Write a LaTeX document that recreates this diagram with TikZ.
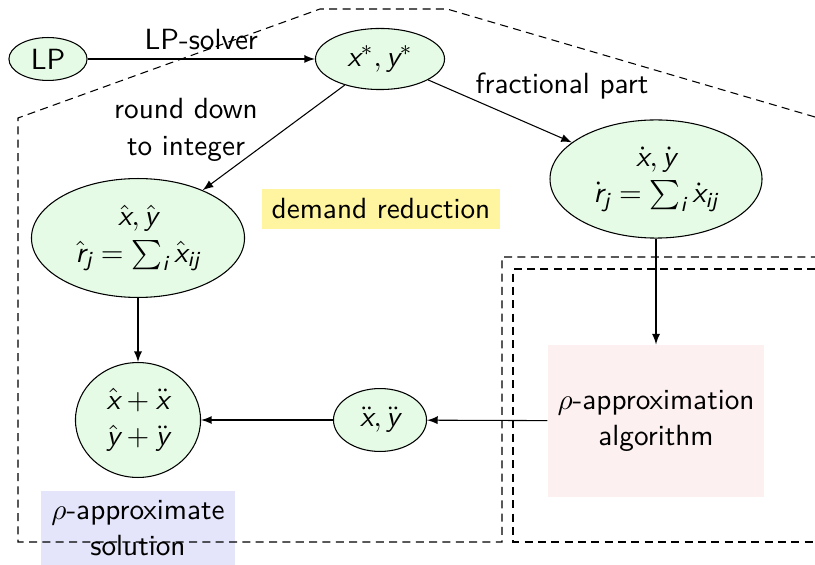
\documentclass[tikz,border=0pt]{standalone}
\usepackage{amsmath}
\usetikzlibrary{shapes.geometric,arrows}
\newcommand\sv[1]{\text{\normalfont\sffamily\itshape #1}}
\definecolor{egreen}{RGB}{229,251,229}
\definecolor{bpink}{RGB}{253,240,240}
\definecolor{byellow}{RGB}{255,245,160}
\definecolor{blav}{RGB}{228,228,250}
\begin{document}
\begin{tikzpicture}[x=0.375pt,y=-0.375pt,
  font=\fontsize{10.95}{13.6}\selectfont\sffamily,
  ell/.style={ellipse,draw,fill=egreen,inner sep=0pt,align=center},
  fbox/.style={rectangle,inner sep=0pt,align=center},
  arr/.style={-latex,line width=0.4pt},
  dsh/.style={dash pattern=on 3pt off 2pt,line width=0.4pt}]
\useasboundingbox (0,0) rectangle (815,565);
% nodes
\node[ell,minimum width=29.3pt,minimum height=16.1pt] (lp) at (48,59) {LP};
\node[ell,minimum width=48.4pt,minimum height=22.9pt] (xs) at (380,59) {$\sv{x}^*, \sv{y}^*$};
\node[ell,minimum width=79.5pt,minimum height=44.3pt] (dot) at (656,179) {$\dot{\sv{x}}, \dot{\sv{y}}$\\$\dot{\sv{r}}_{\sv{j}} = \sum_{\sv{i}} \dot{\sv{x}}_{\sv{ij}}$};
\node[ell,minimum width=79.9pt,minimum height=44.6pt] (hat) at (138,238) {$\hat{\sv{x}}, \hat{\sv{y}}$\\$\hat{\sv{r}}_{\sv{j}} = \sum_{\sv{i}} \hat{\sv{x}}_{\sv{ij}}$};
\node[ell,minimum width=46.9pt,minimum height=43.1pt] (sum) at (138,420) {$\hat{\sv{x}} + \ddot{\sv{x}}$\\$\hat{\sv{y}} + \ddot{\sv{y}}$};
\node[ell,minimum width=34.9pt,minimum height=23.6pt] (dd) at (380,420) {$\ddot{\sv{x}}, \ddot{\sv{y}}$};
\node[fbox,fill=bpink,minimum width=81pt,minimum height=57pt] (alg) at (656,421) {$\rho$-approximation\\algorithm};
\node[fbox,fill=byellow,minimum width=89.3pt,minimum height=15pt] (dr) at (381,209) {demand reduction};
\node[fbox,fill=blav,minimum width=72.4pt,minimum height=27.4pt] (sol) at (138,528) {$\rho$-approximate\\solution};
% labels
\node[align=center] (lround) at (186,130) {round down\\to integer};
\node (lfrac) at (562,86) {fractional part};
% edges
\draw[arr] (lp) -- node[above] (lsolv) {LP-solver} (xs);
\draw[arr] (xs) -- (hat);
\draw[arr] (xs) -- (dot);
\draw[arr] (dot) -- (alg);
\draw[arr] (hat) -- (sum);
\draw[arr] (alg) -- (dd);
\draw[arr] (dd) -- (sum);
% dashed regions
\draw[dsh] (815,117) -- (447,9) -- (320,9) -- (18,118) -- (18,542) -- (502,542) -- (502,257) -- (815,257);
\draw[dsh] (815,269) -- (513,269) -- (513,542) -- (815,542);
\end{tikzpicture}
\end{document}
